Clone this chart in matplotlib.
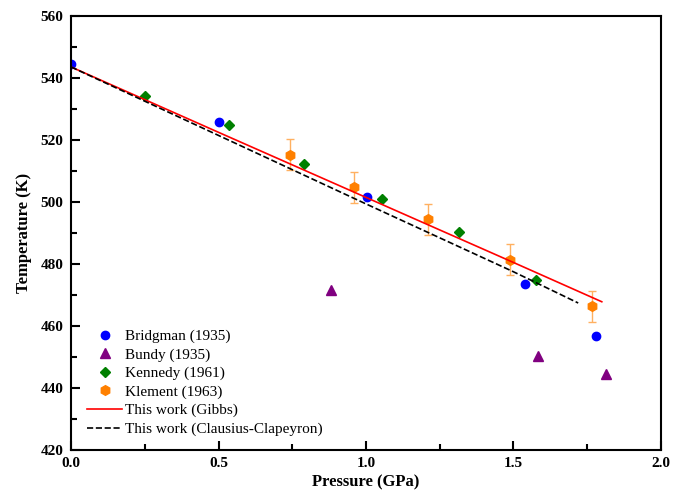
import matplotlib
matplotlib.use("Agg")
import matplotlib.pyplot as plt
from matplotlib.ticker import MultipleLocator

plt.rcParams['font.family'] = ['Liberation Serif', 'DejaVu Serif']

# experimental data
bridgman_p = [0.0, 0.50, 1.005, 1.54, 1.78]
bridgman_t = [544.4, 525.8, 501.7, 473.5, 456.7]

bundy_p = [0.88, 1.584, 1.815]
bundy_t = [471.7, 450.4, 444.6]

kennedy_p = [0.252, 0.534, 0.79, 1.053, 1.315, 1.576]
kennedy_t = [534.2, 524.9, 512.4, 501.0, 490.4, 474.8]

klement_p = [0.743, 0.96, 1.209, 1.488, 1.766]
klement_t = [515.2, 504.8, 494.5, 481.3, 466.4]
klement_err = [5, 5, 5, 5, 5]

# model lines
gibbs_p = [0.0, 0.5, 1.0, 1.5, 1.80]
gibbs_t = [543.6, 522.5, 501.5, 480.5, 467.8]

cc_p = [0.0, 0.5, 1.0, 1.5, 1.72]
cc_t = [543.6, 521.5, 499.4, 477.5, 467.4]

fig = plt.figure(figsize=(6.97, 4.90), dpi=100)
ax = fig.add_axes([0.102, 0.082, 0.846, 0.885])

ax.errorbar(klement_p, klement_t, yerr=klement_err, fmt='none',
            ecolor='#ffb060', elinewidth=1, capsize=3, capthick=1)
ax.plot(bridgman_p, bridgman_t, 'o', color='#0000ff', ms=6, ls='none', label='Bridgman (1935)')
ax.plot(bundy_p, bundy_t, '^', color='#800080', ms=6.5, ls='none', label='Bundy (1935)')
ax.plot(kennedy_p, kennedy_t, 'D', color='#008000', ms=5.5, ls='none', label='Kennedy (1961)')
ax.plot(klement_p, klement_t, 'h', color='#ff8000', ms=7, ls='none', label='Klement (1963)')
ax.plot(gibbs_p, gibbs_t, '-', color='#ff0000', lw=1.2, label='This work (Gibbs)')
ax.plot(cc_p, cc_t, '--', color='black', lw=1.2, label='This work (Clausius-Clapeyron)')

ax.set_xlim(0, 2.0)
ax.set_ylim(420, 560)
ax.xaxis.set_major_locator(MultipleLocator(0.5))
ax.xaxis.set_minor_locator(MultipleLocator(0.25))
ax.yaxis.set_major_locator(MultipleLocator(20))
ax.yaxis.set_minor_locator(MultipleLocator(10))
ax.set_xticklabels([f'{v:.1f}' for v in ax.get_xticks()])
ax.tick_params(which='both', direction='in', width=1.5, top=False, right=False)
ax.tick_params(which='major', length=6.5, labelsize=11, pad=5.5)
ax.tick_params(which='minor', length=4.3)
for lab in ax.get_xticklabels() + ax.get_yticklabels():
    lab.set_fontweight('bold')
for s in ax.spines.values():
    s.set_linewidth(1.5)

ax.set_xlabel('Pressure (GPa)', fontsize=12, fontweight='bold', labelpad=3)
ax.set_ylabel('Temperature (K)', fontsize=12, fontweight='bold', labelpad=6)

ax.legend(loc='lower left', bbox_to_anchor=(0.004, 0.0), frameon=False, fontsize=11,
          handlelength=2.3, handletextpad=0.2, labelspacing=0.31)

fig.savefig('out.png', dpi=100)
